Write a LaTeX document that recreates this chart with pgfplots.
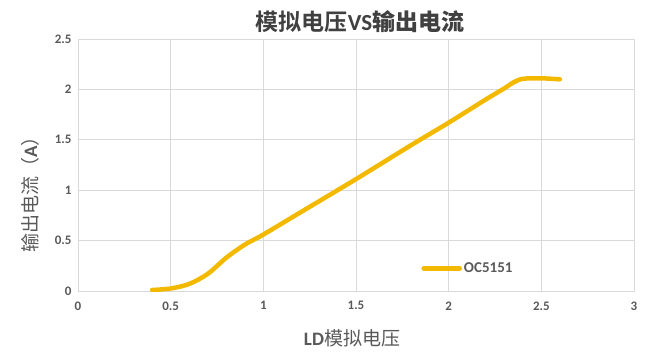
\documentclass[border=0pt]{standalone}
\usepackage{pgfplots}
\pgfplotsset{compat=1.18}
\usepackage{fontspec}
\setmainfont{Carlito}
\newfontfamily\cjk{Noto Sans CJK SC}
\newfontfamily\cjkb{Noto Sans CJK SC Bold}
\definecolor{gold}{HTML}{F2B900}
\definecolor{txt}{HTML}{595959}
\definecolor{ttl}{HTML}{404040}
\definecolor{gridc}{HTML}{D9D9D9}
\begin{document}
\begin{tikzpicture}
\useasboundingbox (0,0) rectangle (650pt,360pt);
\begin{axis}[
  scale only axis,
  width=556pt, height=252pt,
  at={(78pt,69pt)}, anchor=south west,
  xmin=0, xmax=3, ymin=0, ymax=2.5,
  xtick={0,0.5,...,3}, ytick={0,0.5,...,2.5},
  xticklabels={0,0.5,1,1.5,2,2.5,3},
  yticklabels={0,0.5,1,1.5,2,2.5},
  major tick length=0pt,
  grid=major,
  major grid style={gridc, line width=0.8pt},
  axis line style={gridc, line width=0.8pt},
  tick label style={font=\fontsize{13}{13}\selectfont\bfseries, text=txt},
  /pgf/number format/assume math mode=true,
  xticklabel style={yshift=-7pt},
  yticklabel style={xshift=-3pt},
  legend style={at={(0.612,0.09)}, anchor=west, draw=none, fill=none,
    font=\fontsize{15}{15}\selectfont\bfseries, text=txt},
  legend image code/.code={\draw[#1, line cap=round] (0pt,0pt) -- (36pt,0pt);},
]
\addplot[gold, line width=4.5pt, smooth, line cap=round, line join=round, tension=0.5] coordinates {
(0.4,0.01)(0.5,0.025)(0.6,0.07)(0.7,0.17)(0.8,0.33)(0.9,0.46)(1.0,0.56)
(1.2,0.78)(1.5,1.11)(1.8,1.45)(2.0,1.67)(2.2,1.9)(2.3,2.01)(2.35,2.07)
(2.4,2.105)(2.5,2.11)(2.6,2.10)
};
\addlegendentry{OC5151}
\end{axis}
\node[text=ttl] at (360pt,338pt) {\fontsize{23}{23}\selectfont\cjkb 模拟电压\bfseries\rmfamily VS\cjkb 输出电流};
\node[text=txt] at (352pt,22pt) {\fontsize{19}{19}\selectfont\bfseries LD\mdseries\cjk 模拟电压};
\node[text=txt, rotate=90] at (30pt,170pt) {\fontsize{19}{19}\selectfont\cjk 输出电流（\rmfamily\bfseries A\mdseries\cjk ）};
\end{tikzpicture}
\end{document}
